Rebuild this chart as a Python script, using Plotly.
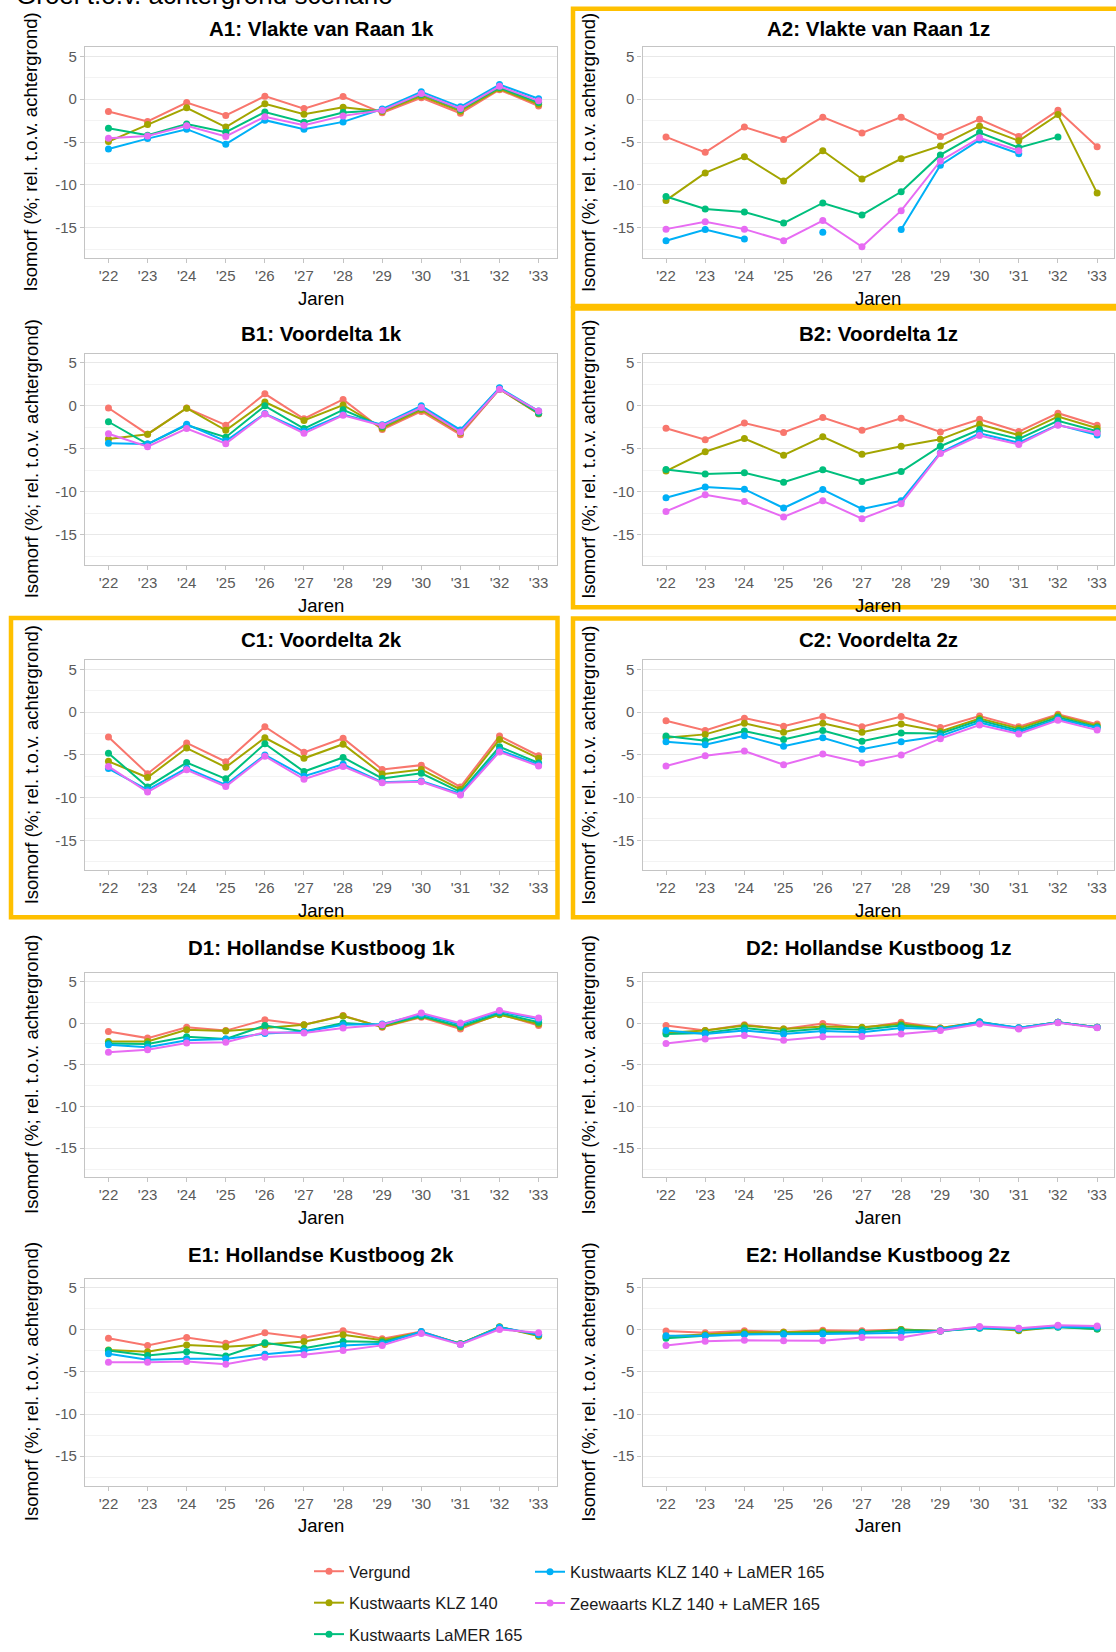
import plotly.graph_objects as go

W, H = 1116, 1652

years = ["'22", "'23", "'24", "'25", "'26", "'27", "'28", "'29", "'30", "'31", "'32", "'33"]
series_names = ["Vergund", "Kustwaarts KLZ 140", "Kustwaarts LaMER 165",
                "Kustwaarts KLZ 140 + LaMER 165", "Zeewaarts KLZ 140 + LaMER 165"]
colors = ["#F8766D", "#A3A500", "#00BF7D", "#00B0F6", "#E76BF3"]
panel_titles = ["A1: Vlakte van Raan 1k", "A2: Vlakte van Raan 1z",
                "B1: Voordelta 1k", "B2: Voordelta 1z",
                "C1: Voordelta 2k", "C2: Voordelta 2z",
                "D1: Hollandse Kustboog 1k", "D2: Hollandse Kustboog 1z",
                "E1: Hollandse Kustboog 2k", "E2: Hollandse Kustboog 2z"]
main_title = "Groei t.o.v. achtergrond scenario"
y_title = "Isomorf (%; rel. t.o.v. achtergrond)"
x_title = "Jaren"
y_ticks = [-15, -10, -5, 0, 5]

# A1
a1_v = [-1.45, -2.6, -0.4, -1.9, 0.35, -1.1, 0.3, -1.6, 0.15, -1.65, 1.1, -0.8]
a1_k = [-4.95, -2.95, -1.0, -3.25, -0.55, -1.75, -0.95, -1.45, 0.35, -1.4, 1.2, -0.6]
a1_l = [-3.4, -4.2, -2.9, -3.85, -1.5, -2.7, -1.55, -1.3, 0.55, -1.2, 1.35, -0.4]
a1_kl = [-5.8, -4.6, -3.5, -5.25, -2.45, -3.5, -2.65, -1.15, 0.85, -0.9, 1.7, 0.05]
a1_z = [-4.55, -4.3, -3.1, -4.35, -2.05, -3.05, -1.95, -1.3, 0.65, -1.1, 1.5, -0.2]
# A2
a2_v = [-4.4, -6.2, -3.25, -4.7, -2.1, -3.95, -2.1, -4.35, -2.35, -4.35, -1.3, -5.55]
a2_k = [-11.8, -8.6, -6.7, -9.55, -6.0, -9.3, -6.95, -5.45, -3.15, -4.85, -1.8, -10.95]
a2_l = [-11.35, -12.8, -13.15, -14.45, -12.1, -13.5, -10.8, -6.5, -3.9, -5.65, -4.4, None]
a2_kl = [-16.5, -15.2, -16.3, None, -15.5, None, -15.2, -7.7, -4.75, -6.35, None, None]
a2_z = [-15.15, -14.3, -15.15, -16.5, -14.15, -17.2, -13.0, -7.2, -4.5, -6.0, None, None]
# B1
b1_v = [-0.25, -3.3, -0.25, -2.25, 1.4, -1.5, 0.75, -2.75, -0.65, -3.35, 1.95, -0.95]
b1_k = [-3.85, -3.3, -0.27, -2.85, 0.45, -1.7, 0.1, -2.6, -0.45, -3.15, 1.95, -0.9]
b1_l = [-1.85, -4.45, -2.25, -3.65, 0.0, -2.65, -0.45, -2.4, -0.25, -2.95, 2.05, -0.85]
b1_kl = [-4.35, -4.45, -2.15, -4.1, -0.9, -2.95, -1.0, -2.2, 0.0, -2.8, 2.1, -0.6]
b1_z = [-3.25, -4.75, -2.65, -4.4, -0.95, -3.2, -1.1, -2.3, -0.2, -3.05, 1.95, -0.6]
# B2
b2_v = [-2.6, -3.95, -2.0, -3.1, -1.35, -2.85, -1.45, -3.05, -1.55, -3.0, -0.85, -2.25]
b2_k = [-7.6, -5.35, -3.8, -5.75, -3.6, -5.65, -4.7, -3.9, -2.15, -3.4, -1.25, -2.6]
b2_l = [-7.4, -7.95, -7.8, -8.9, -7.45, -8.8, -7.65, -4.7, -2.75, -3.85, -1.75, -2.95]
b2_kl = [-10.7, -9.45, -9.7, -11.9, -9.75, -12.0, -11.05, -5.45, -3.2, -4.3, -2.2, -3.4]
b2_z = [-12.3, -10.35, -11.15, -12.95, -11.05, -13.15, -11.4, -5.55, -3.45, -4.5, -2.25, -3.15]
# C1
c1_v = [-2.9, -7.2, -3.6, -5.8, -1.7, -4.7, -3.05, -6.7, -6.2, -8.75, -2.8, -5.1]
c1_k = [-5.75, -7.65, -4.2, -6.45, -3.0, -5.4, -3.75, -7.25, -6.7, -9.05, -3.2, -5.4]
c1_l = [-4.8, -8.75, -5.9, -7.8, -3.7, -6.95, -5.3, -7.75, -7.15, -9.35, -4.05, -5.95]
c1_kl = [-6.6, -9.1, -6.55, -8.5, -5.0, -7.5, -6.1, -8.2, -8.05, -9.55, -4.45, -6.15]
c1_z = [-6.35, -9.35, -6.75, -8.7, -5.15, -7.85, -6.35, -8.25, -8.15, -9.7, -4.65, -6.3]
# C2
c2_v = [-1.0, -2.15, -0.7, -1.65, -0.5, -1.7, -0.5, -1.8, -0.45, -1.7, -0.25, -1.4]
c2_k = [-3.0, -2.6, -1.3, -2.35, -1.3, -2.35, -1.4, -2.25, -0.75, -1.9, -0.4, -1.6]
c2_l = [-2.8, -3.35, -2.2, -3.2, -2.15, -3.4, -2.45, -2.5, -0.95, -2.15, -0.6, -1.75]
c2_kl = [-3.45, -3.8, -2.75, -4.0, -3.0, -4.35, -3.45, -2.8, -1.2, -2.35, -0.8, -1.85]
c2_z = [-6.3, -5.1, -4.55, -6.15, -4.9, -5.95, -5.0, -3.1, -1.5, -2.55, -0.95, -2.1]
# D1
d1_v = [-1.0, -1.8, -0.5, -0.9, 0.4, -0.2, 0.9, -0.5, 0.7, -0.7, 1.1, -0.3]
d1_k = [-2.2, -2.2, -0.8, -0.95, -0.6, -0.2, 0.85, -0.45, 0.8, -0.5, 1.0, -0.1]
d1_l = [-2.45, -2.5, -1.65, -1.9, -0.3, -1.0, 0.0, -0.25, 0.85, -0.4, 1.2, 0.1]
d1_kl = [-2.6, -2.9, -2.05, -1.9, -1.25, -1.05, -0.2, -0.1, 1.05, -0.15, 1.4, 0.45]
d1_z = [-3.5, -3.2, -2.4, -2.3, -1.1, -1.2, -0.6, -0.2, 1.2, 0.0, 1.5, 0.6]
# D2
d2_v = [-0.3, -0.9, -0.2, -0.7, -0.05, -0.6, 0.1, -0.6, 0.1, -0.6, 0.1, -0.5]
d2_k = [-1.15, -0.9, -0.3, -0.7, -0.4, -0.5, -0.1, -0.6, 0.1, -0.6, 0.1, -0.5]
d2_l = [-1.3, -1.2, -0.6, -1.05, -0.65, -0.8, -0.3, -0.7, 0.15, -0.6, 0.1, -0.5]
d2_kl = [-0.9, -1.3, -0.9, -1.3, -0.95, -1.1, -0.6, -0.7, 0.1, -0.55, 0.1, -0.5]
d2_z = [-2.45, -1.9, -1.5, -2.05, -1.65, -1.6, -1.3, -0.9, -0.1, -0.7, 0.05, -0.55]
# E1
e1_v = [-1.0, -1.85, -0.9, -1.6, -0.35, -0.95, -0.1, -1.05, -0.2, -1.65, 0.3, -0.65]
e1_k = [-2.4, -2.6, -1.8, -2.0, -1.75, -1.4, -0.6, -1.25, -0.3, -1.65, 0.35, -0.75]
e1_l = [-2.45, -3.05, -2.6, -3.1, -1.55, -2.2, -1.35, -1.45, -0.3, -1.65, 0.3, -0.6]
e1_kl = [-2.85, -3.55, -3.45, -3.45, -2.9, -2.5, -1.85, -1.65, -0.2, -1.7, 0.3, -0.55]
e1_z = [-3.85, -3.85, -3.75, -4.1, -3.25, -2.95, -2.45, -1.85, -0.45, -1.75, 0.05, -0.35]
# E2
e2_v = [-0.15, -0.35, -0.1, -0.25, -0.05, -0.1, 0.05, -0.15, 0.3, 0.0, 0.4, 0.25]
e2_k = [-0.8, -0.55, -0.3, -0.3, -0.2, -0.3, 0.05, -0.15, 0.25, -0.1, 0.35, 0.1]
e2_l = [-1.0, -0.7, -0.5, -0.45, -0.35, -0.3, -0.05, -0.15, 0.2, 0.05, 0.3, 0.1]
e2_kl = [-0.7, -0.7, -0.55, -0.55, -0.5, -0.45, -0.35, -0.15, 0.25, 0.1, 0.35, 0.3]
e2_z = [-1.85, -1.35, -1.25, -1.3, -1.3, -0.9, -0.9, -0.15, 0.4, 0.2, 0.55, 0.45]

panels = [
    [a1_v, a1_k, a1_l, a1_kl, a1_z], [a2_v, a2_k, a2_l, a2_kl, a2_z],
    [b1_v, b1_k, b1_l, b1_kl, b1_z], [b2_v, b2_k, b2_l, b2_kl, b2_z],
    [c1_v, c1_k, c1_l, c1_kl, c1_z], [c2_v, c2_k, c2_l, c2_kl, c2_z],
    [d1_v, d1_k, d1_l, d1_kl, d1_z], [d2_v, d2_k, d2_l, d2_kl, d2_z],
    [e1_v, e1_k, e1_l, e1_kl, e1_z], [e2_v, e2_k, e2_l, e2_kl, e2_z],
]

# ---------------- layout geometry (pixels) ----------------
row_top = [48, 359.6, 671, 988.2, 1299.3]
row_bot = [262, 573.7, 884.2, 1196.2, 1509.4]
title_gap = [19.5, 20.5, 21, 26, 25]
col_left = [85, 642.5]
col_right = [557, 1114]
x_range_max = [11.47, 11.43]
FONT = "Liberation Sans, Arial, sans-serif"


def px(x):
    return x / W


def py(y):
    return 1 - y / H


fig = go.Figure()
annotations = []

for i, series in enumerate(panels):
    r, c = divmod(i, 2)
    suf = "" if i == 0 else str(i + 1)
    for j, vals in enumerate(series):
        fig.add_trace(go.Scatter(
            x=years, y=vals, mode="lines+markers", name=series_names[j],
            line=dict(color=colors[j], width=2),
            marker=dict(color=colors[j], size=7),
            xaxis="x" + suf, yaxis="y" + suf,
            showlegend=(i == 0), legendgroup=series_names[j],
            legend="legend" if j < 3 else "legend2",
            connectgaps=False, hoverinfo="x+y+name",
        ))
    fig.layout["xaxis" + suf] = dict(
        domain=[px(col_left[c]), px(col_right[c])], anchor="y" + suf,
        type="category", categoryorder="array", categoryarray=years,
        range=[-0.6, x_range_max[c]], showgrid=False, zeroline=False,
        showline=True, mirror=True, linecolor="#C4C4C4", linewidth=1.2,
        ticks="outside", ticklen=4, tickcolor="#C4C4C4",
        tickfont=dict(family=FONT, size=15, color="#5A5A5A"),
    )
    fig.layout["yaxis" + suf] = dict(
        domain=[py(row_bot[r]), py(row_top[r])], anchor="x" + suf,
        range=[-18.5, 6.05], tickvals=y_ticks, ticktext=[str(v) for v in y_ticks],
        showgrid=True, gridcolor="#E8E8E8", gridwidth=1.2, zeroline=False,
        minor=dict(dtick=2.5, tick0=0, showgrid=True, gridcolor="#F3F3F3", gridwidth=1),
        showline=True, mirror=True, linecolor="#C4C4C4", linewidth=1.2,
        ticks="outside", ticklen=4, tickcolor="#C4C4C4",
        tickfont=dict(family=FONT, size=15, color="#5A5A5A"),
    )
    cx = (col_left[c] + col_right[c]) / 2
    annotations.append(dict(
        text="<b>" + panel_titles[i] + "</b>", x=px(cx), y=py(row_top[r] - title_gap[r]),
        xref="paper", yref="paper", xanchor="center", yanchor="middle", showarrow=False,
        font=dict(family=FONT, size=20.5, color="#000000")))
    annotations.append(dict(
        text=x_title, x=px(cx), y=py(row_bot[r] + 41),
        xref="paper", yref="paper", xanchor="center", yanchor="middle", showarrow=False,
        font=dict(family=FONT, size=18.5, color="#000000")))
    annotations.append(dict(
        text=y_title, x=px(col_left[c] - 54), y=py((row_top[r] + row_bot[r]) / 2),
        xref="paper", yref="paper", xanchor="center", yanchor="middle", showarrow=False,
        textangle=-90, font=dict(family=FONT, size=18.5, color="#000000")))

annotations.append(dict(
    text=main_title, x=px(14), y=py(-5), xref="paper", yref="paper",
    xanchor="left", yanchor="middle", showarrow=False,
    font=dict(family=FONT, size=26, color="#000000")))

# highlight boxes (pixels: x0, y0, x1, y1)
boxes = [(573, 9, 1120, 311), (573, 313.5, 1120, 617), (11, 628, 557.5, 932), (573, 628.5, 1120, 932)]
shapes = []
for (x0, y0, x1, y1) in boxes:
    shapes.append(dict(type="rect", xref="paper", yref="paper",
                       x0=px(x0), x1=px(x1), y0=py(y1), y1=py(y0),
                       line=dict(color="#FFC000", width=4.5), fillcolor="rgba(0,0,0,0)",
                       layer="above"))

fig.update_layout(
    width=W, height=H, autosize=False,
    margin=dict(l=0, r=0, t=0, b=0),
    paper_bgcolor="#FFFFFF", plot_bgcolor="#FFFFFF",
    font=dict(family=FONT, color="#000000"),
    annotations=annotations, shapes=shapes,
    legend=dict(x=px(309), y=py(1579.3), xanchor="left", yanchor="top",
                font=dict(family=FONT, size=16.5, color="#1A1A1A"),
                bgcolor="rgba(0,0,0,0)", tracegroupgap=7, traceorder="grouped"),
    legend2=dict(x=px(530), y=py(1579.3), xanchor="left", yanchor="top",
                 font=dict(family=FONT, size=16.5, color="#1A1A1A"),
                 bgcolor="rgba(0,0,0,0)", tracegroupgap=7, traceorder="grouped"),
    hovermode="closest",
)

fig.write_html("out.html", config={"displayModeBar": False},
               post_script="document.body.style.margin='0';document.body.style.padding='0';")
